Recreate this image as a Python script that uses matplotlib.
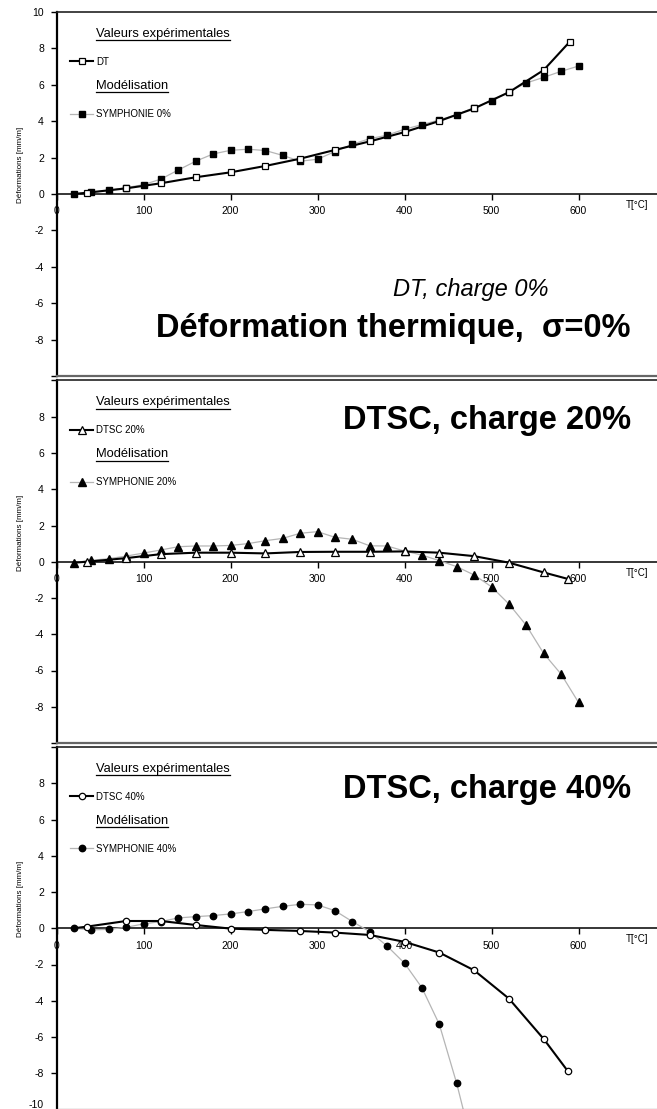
import matplotlib
matplotlib.use("Agg")
import matplotlib.pyplot as plt
from matplotlib.lines import Line2D

plt.rcParams['font.family'] = ['Liberation Sans', 'DejaVu Sans']

# ---------------- data ----------------
T_dt = [20, 35, 80, 120, 160, 200, 240, 280, 320, 360, 400, 440, 480, 520, 560, 590]
V_dt = [0.0, 0.07, 0.31, 0.59, 0.92, 1.19, 1.54, 1.94, 2.42, 2.89, 3.40, 4.01, 4.70, 5.59, 6.81, 8.37]

T_sym = [20, 40, 60, 80, 100, 120, 140, 160, 180, 200, 220, 240, 260, 280, 300,
         320, 340, 360, 380, 400, 420, 440, 460, 480, 500, 520, 540, 560, 580, 600]
V_sym0 = [0.0, 0.09, 0.20, 0.35, 0.51, 0.82, 1.32, 1.80, 2.20, 2.40, 2.46, 2.39, 2.12, 1.80, 1.91,
          2.33, 2.73, 3.04, 3.23, 3.56, 3.81, 4.07, 4.36, 4.75, 5.12, 5.62, 6.10, 6.41, 6.74, 7.03]

T_dtsc20 = [20, 35, 80, 120, 160, 200, 240, 280, 320, 360, 400, 440, 480, 520, 560, 588]
V_dtsc20 = [-0.05, 0.0, 0.2, 0.42, 0.50, 0.50, 0.46, 0.54, 0.55, 0.55, 0.57, 0.50, 0.31, -0.05, -0.59, -0.95]
V_sym20 = [-0.05, 0.08, 0.17, 0.31, 0.48, 0.65, 0.83, 0.87, 0.87, 0.90, 1.00, 1.16, 1.29, 1.57, 1.66,
           1.35, 1.24, 0.88, 0.87, 0.59, 0.37, 0.06, -0.27, -0.73, -1.38, -2.33, -3.51, -5.06, -6.20, -7.76]

T_dtsc40 = [20, 35, 80, 120, 160, 200, 240, 280, 320, 360, 400, 440, 480, 520, 560, 588]
V_dtsc40 = [0.0, 0.09, 0.40, 0.40, 0.18, -0.02, -0.09, -0.15, -0.24, -0.37, -0.75, -1.34, -2.32, -3.88, -6.11, -7.90]
T_sym40 = [20, 40, 60, 80, 100, 120, 140, 160, 180, 200, 220, 240, 260, 280, 300,
           320, 340, 360, 380, 400, 420, 440, 460, 480]
V_sym40 = [0.0, -0.09, -0.06, 0.05, 0.24, 0.37, 0.57, 0.64, 0.70, 0.79, 0.92, 1.07, 1.21, 1.32, 1.29,
           0.97, 0.37, -0.19, -0.98, -1.93, -3.28, -5.30, -8.56, -12.4]

x_ticks = [0, 100, 200, 300, 400, 500, 600]
y_ticks = [-10, -8, -6, -4, -2, 0, 2, 4, 6, 8, 10]

panels = [
    dict(exp=(T_dt, V_dt), exp_label="DT", exp_marker='s', exp_ms=5.0,
         sym=(T_sym, V_sym0), sym_label="SYMPHONIE 0%", sym_marker='s', sym_ms=4.2,
         show_top=True, show_bottom=False),
    dict(exp=(T_dtsc20, V_dtsc20), exp_label="DTSC 20%", exp_marker='^', exp_ms=5.2,
         sym=(T_sym, V_sym20), sym_label="SYMPHONIE 20%", sym_marker='^', sym_ms=5.2,
         show_top=False, show_bottom=False),
    dict(exp=(T_dtsc40, V_dtsc40), exp_label="DTSC 40%", exp_marker='o', exp_ms=4.6,
         sym=(T_sym40, V_sym40), sym_label="SYMPHONIE 40%", sym_marker='o', sym_ms=4.6,
         show_top=False, show_bottom=True),
]

W, H = 657, 1109
fig = plt.figure(figsize=(W / 100, H / 100), dpi=100)

ox = 56.5
pxu = 0.87
xmax = 700
boxes = [(12, 376), (380.5, 743), (747, 1109.5)]

axes = []
for p, (top, bot) in zip(panels, boxes):
    ax = fig.add_axes([ox / W, 1 - bot / H, xmax * pxu / W, (bot - top) / H])
    ax.set_xlim(0, xmax)
    ax.set_ylim(-10, 10)
    ax.spines['right'].set_visible(False)
    ax.spines['bottom'].set_position(('data', 0))
    ax.spines['bottom'].set_linewidth(1.1)
    ax.spines['left'].set_linewidth(1.6)
    ax.spines['top'].set_linewidth(1.2)
    ax.spines['top'].set_color('#222222')
    ax.axhline(-10, color='#666666', lw=1.6, clip_on=False, zorder=5)
    ax.set_xticks(x_ticks)
    ax.set_xticklabels([str(t) for t in x_ticks])
    ax.set_yticks(y_ticks)
    labs = []
    for t in y_ticks:
        if t == 10 and not p['show_top']:
            labs.append('')
        elif t == -10 and not p['show_bottom']:
            labs.append('')
        else:
            labs.append(str(t))
    ax.set_yticklabels(labs)
    ax.tick_params(axis='both', direction='out', length=4, width=1, labelsize=7.5, colors='black')
    ax.tick_params(axis='x', pad=5)
    ax.tick_params(axis='y', pad=5)
    if p['show_bottom']:
        ax.get_yticklabels()[0].set_va('bottom')

    ax.plot(*p['sym'], color='#b5b5b5', lw=0.9, marker=p['sym_marker'], ms=p['sym_ms'],
            mfc='black', mec='black', zorder=3, label=p['sym_label'], clip_on=True)
    ax.plot(*p['exp'], color='black', lw=1.5, marker=p['exp_marker'], ms=p['exp_ms'],
            mfc='white', mec='black', mew=0.9, zorder=4, label=p['exp_label'],
            markevery=slice(1, None))

    ax.set_ylabel("Déformations [mm/m]", fontsize=5.8, labelpad=0)
    ax.yaxis.set_label_coords(-0.054, 0.58)
    ax.text(667, -0.6, "T[°C]", fontsize=7, ha='center', va='center')
    axes.append(ax)

# titles
axes[0].text(476, -5.6, "DT, charge 0%", fontsize=17, style='italic', ha='center', va='baseline')
axes[0].text(660, -7.85, "Déformation thermique,  σ=0%", fontsize=23.5, weight='bold',
             ha='right', va='baseline')
axes[1].text(661, 7.35, "DTSC, charge 20%", fontsize=23.5, weight='bold', ha='right', va='baseline')
axes[2].text(661, 7.18, "DTSC, charge 40%", fontsize=23.5, weight='bold', ha='right', va='baseline')

# legends
headers = []
for ax in axes:
    lines = ax.get_lines()
    sym_line = [l for l in lines if l.get_label().startswith('SYMPHONIE')][0]
    exp_line = [l for l in lines if not l.get_label().startswith('SYMPHONIE') and not l.get_label().startswith('_')][0]
    lg1 = ax.legend([exp_line], [exp_line.get_label()], loc='center left',
                    bbox_to_anchor=(0.022, 0.863), frameon=False, fontsize=7,
                    handlelength=2.4, handletextpad=0.3, borderpad=0, borderaxespad=0)
    ax.add_artist(lg1)
    ax.legend([sym_line], [sym_line.get_label()], loc='center left',
              bbox_to_anchor=(0.022, 0.719), frameon=False, fontsize=7,
              handlelength=2.4, handletextpad=0.3, borderpad=0, borderaxespad=0)
    t1 = ax.text(0.0647, 0.94, "Valeurs expérimentales", transform=ax.transAxes,
                 fontsize=9.3, ha='left', va='center')
    t2 = ax.text(0.0647, 0.797, "Modélisation", transform=ax.transAxes,
                 fontsize=9.3, ha='left', va='center')
    headers += [t1, t2]

fig.canvas.draw()
r = fig.canvas.get_renderer()
for t in headers:
    bb = t.get_window_extent(r)
    y = bb.y0 - 0.5
    fig.add_artist(Line2D([bb.x0 / W, bb.x1 / W], [y / H, y / H], transform=fig.transFigure,
                          color='black', lw=0.9))

fig.savefig("out.png", dpi=100)
